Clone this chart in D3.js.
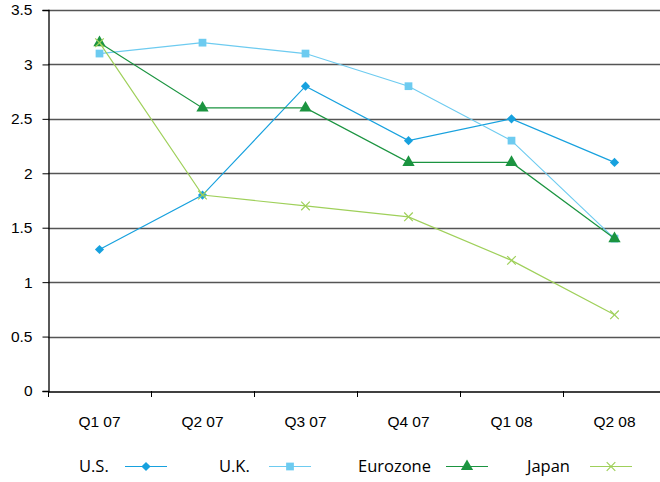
<!DOCTYPE html>
<html>
<head>
<meta charset="utf-8">
<script src="https://cdn.jsdelivr.net/npm/d3@7"></script>
<style>
  body { margin: 0; background: #fff; }
  svg { font-family: 'Open Sans', sans-serif; }
</style>
</head>
<body>
<div class="chart"></div>
<script>
const quarters = ['Q1 07', 'Q2 07', 'Q3 07', 'Q4 07', 'Q1 08', 'Q2 08']
const us = [1.3, 1.8, 2.8, 2.3, 2.5, 2.1]
const uk = [3.1, 3.2, 3.1, 2.8, 2.3, 1.4]
const eurozone = [3.2, 2.6, 2.6, 2.1, 2.1, 1.4]
const japan = [3.2, 1.8, 1.7, 1.6, 1.2, 0.7]
const yTicks = [0, 0.5, 1, 1.5, 2, 2.5, 3, 3.5]

// diamond = square turned 45deg
const series = [
  { name: 'U.S.', values: us, color: '#17a1de', marker: d3.symbolSquare, size: 42, rotate: 45 },
  { name: 'U.K.', values: uk, color: '#6dcbf0', marker: d3.symbolSquare, size: 60, rotate: 0 },
  { name: 'Eurozone', values: eurozone, color: '#1b9440', marker: d3.symbolTriangle, size: 65, rotate: 0 },
  { name: 'Japan', values: japan, color: '#9fd05a', marker: d3.symbolX, size: 50, rotate: 0 },
]

const width = 660
const height = 482
const margin = { top: 10, right: -6, bottom: 91, left: 48 }

const svg = d3.select('.chart')
  .append('svg')
  .attr('width', width)
  .attr('height', height)

const x = d3.scaleBand()
  .domain(quarters)
  .range([margin.left, width - margin.right])

const y = d3.scaleLinear()
  .domain([0, 3.5])
  .range([height - margin.bottom, margin.top])

// gridlines
svg.append('g')
  .selectAll('line')
  .data(yTicks.slice(1))
  .enter()
  .append('line')
  .attr('x1', margin.left)
  .attr('x2', width)
  .attr('y1', (d) => Math.round(y(d)) + 0.5)
  .attr('y2', (d) => Math.round(y(d)) + 0.5)
  .attr('stroke', '#555')
  .attr('stroke-width', 1.3)

// y axis
const yAxis = svg.append('g')
  .attr('transform', `translate(${margin.left + 0.5},0)`)
  .call(d3.axisLeft(y).tickValues(yTicks).tickFormat(d3.format('')).tickSize(6).tickPadding(10))
yAxis.select('.domain').attr('stroke', '#000').attr('stroke-width', 1.3)
yAxis.selectAll('.tick line').attr('stroke', '#000')
yAxis.selectAll('text').attr('font-size', 15.5).attr('fill', '#000')

// x axis
const xAxis = svg.append('g')
  .attr('transform', `translate(0,${Math.round(y(0)) + 0.5})`)
  .call(d3.axisBottom(x).tickSize(0).tickPadding(24))
xAxis.select('.domain').attr('stroke', '#000').attr('stroke-width', 1.3)
xAxis.selectAll('text').attr('font-size', 15.5).attr('fill', '#000')

// tick marks at band boundaries
svg.append('g')
  .selectAll('line')
  .data(quarters)
  .enter()
  .append('line')
  .attr('x1', (d) => Math.round(x(d)) + 0.5)
  .attr('x2', (d) => Math.round(x(d)) + 0.5)
  .attr('y1', y(0))
  .attr('y2', y(0) + 6)
  .attr('stroke', '#000')

const cx = (i) => x(quarters[i]) + x.bandwidth() / 2

const line = d3.line()
  .x((d, i) => cx(i))
  .y((d) => y(d))

series.forEach((s) => {
  const g = svg.append('g')
  g.append('path')
    .datum(s.values)
    .attr('d', line)
    .attr('fill', 'none')
    .attr('stroke', s.color)
    .attr('stroke-width', 1.2)

  g.selectAll('path.mk')
    .data(s.values)
    .enter()
    .append('path')
    .attr('class', 'mk')
    .attr('transform', (d, i) => `translate(${cx(i)},${y(d)}) rotate(${s.rotate})`)
    .attr('d', d3.symbol(s.marker, s.size))
    .attr('fill', s.color)
    .attr('stroke', s.marker === d3.symbolX ? s.color : 'none')
    .attr('stroke-width', 1.2)
})

// legend
const legendPos = [
  { tx: 79, lx: 125 },
  { tx: 219, lx: 269 },
  { tx: 358, lx: 446 },
  { tx: 527, lx: 590 },
]
const legendY = 466

series.forEach((s, i) => {
  const p = legendPos[i]
  const g = svg.append('g')
  g.append('text')
    .attr('x', p.tx)
    .attr('y', legendY)
    .attr('dy', '0.35em')
    .attr('font-size', 16.5)
    .text(s.name)
  g.append('line')
    .attr('x1', p.lx)
    .attr('x2', p.lx + 42)
    .attr('y1', legendY + 0.5)
    .attr('y2', legendY + 0.5)
    .attr('stroke', s.color)
    .attr('stroke-width', 1.2)
  g.append('path')
    .attr('transform', `translate(${p.lx + 21},${legendY + 0.5}) rotate(${s.rotate})`)
    .attr('d', d3.symbol(s.marker, s.size))
    .attr('fill', s.color)
    .attr('stroke', s.marker === d3.symbolX ? s.color : 'none')
    .attr('stroke-width', 1.2)
})
</script>
</body>
</html>
